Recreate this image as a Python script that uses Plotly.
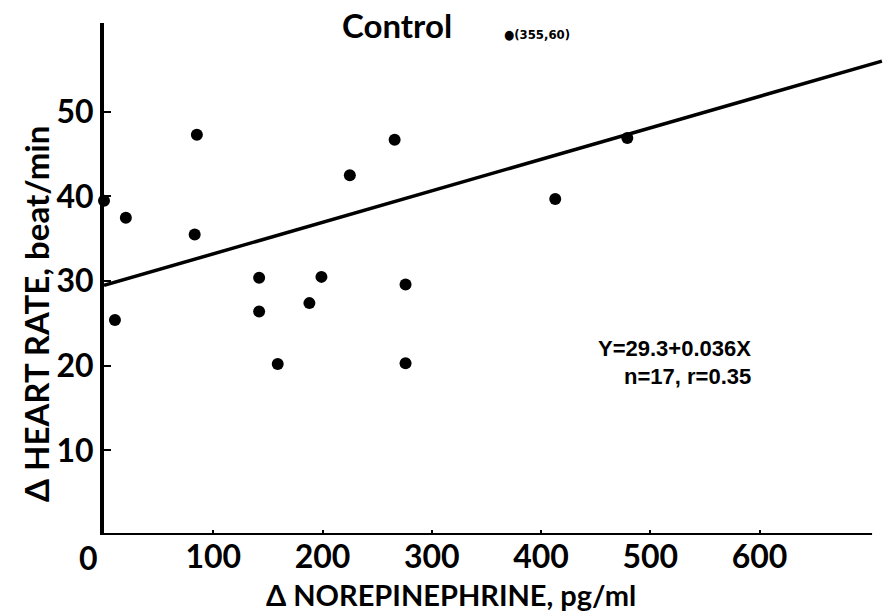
import plotly.graph_objects as go

# Data
norepinephrine = [0, 10, 20, 83, 85, 142, 142, 159, 188, 199, 225, 266, 276, 276, 413, 479]
heart_rate = [39.5, 25.4, 37.5, 35.5, 47.3, 30.4, 26.4, 20.2, 27.4, 30.5, 42.5, 46.7, 29.6, 20.3, 39.7, 46.9]

fit_x = [0, 712]
fit_y = [29.5, 56.0]

x_ticks = [100, 200, 300, 400, 500, 600]
y_ticks = [10, 20, 30, 40, 50]

FONT = "Lato"
W, H = 890, 615
ML, MR, MT, MB = 104, 7, 23, 80

fig = go.Figure()
fig.add_trace(go.Scatter(x=fit_x, y=fit_y, mode="lines",
                         line=dict(color="black", width=3.5), showlegend=False))
fig.add_trace(go.Scatter(x=norepinephrine, y=heart_rate, mode="markers",
                         marker=dict(color="black", size=12), cliponaxis=False,
                         showlegend=False))

# x-axis baseline (ends before the fit line does)
fig.add_shape(type="line", x0=0, x1=703, y0=0, y1=0, xref="x", yref="y",
              line=dict(color="black", width=4), layer="above")

fig.update_layout(
    width=W, height=H,
    margin=dict(l=ML, r=MR, t=MT, b=MB),
    paper_bgcolor="white", plot_bgcolor="white",
    xaxis=dict(range=[0, 713], tickvals=x_ticks, ticks="inside", ticklen=5,
               tickwidth=2, tickcolor="black", showgrid=False, zeroline=False,
               showline=False,
               tickfont=dict(family=FONT, size=32, color="black", weight="bold")),
    yaxis=dict(range=[0, 60.5], tickvals=y_ticks, ticks="inside", ticklen=7,
               tickwidth=2, tickcolor="black", showgrid=False, zeroline=False,
               showline=True, linewidth=4, linecolor="black",
               tickfont=dict(family=FONT, size=32, color="black", weight="bold")),
)

pw = W - ML - MR
ph = H - MT - MB

anns = [
    dict(text="0", x=88, y=557, font=dict(size=32)),
    dict(text="Control", x=397, y=25, font=dict(size=33)),
    dict(text="●(355,60)", x=537, y=34, font=dict(size=13, family="DejaVu Sans Condensed")),
    dict(text="Δ NOREPINEPHRINE, pg/ml", x=451, y=594, font=dict(size=29)),
    dict(text="Δ HEART RATE, beat/min", x=36, y=314, font=dict(size=33), textangle=-90),
    dict(text="Y=29.3+0.036X", x=753, y=348, xanchor="right",
         font=dict(size=22, family="Liberation Sans")),
    dict(text="n=17, r=0.35", x=753, y=376, xanchor="right",
         font=dict(size=22, family="Liberation Sans")),
]
for a in anns:
    f = dict(family=FONT, color="black", weight="bold")
    f.update(a.pop("font"))
    xa = a.pop("xanchor", "center")
    px, py = a.pop("x"), a.pop("y")
    fig.add_annotation(
        x=(px - ML) / pw, y=1 - (py - MT) / ph, xref="paper", yref="paper",
        showarrow=False, xanchor=xa, yanchor="middle", font=f, **a)

fig.write_html("out.html")
